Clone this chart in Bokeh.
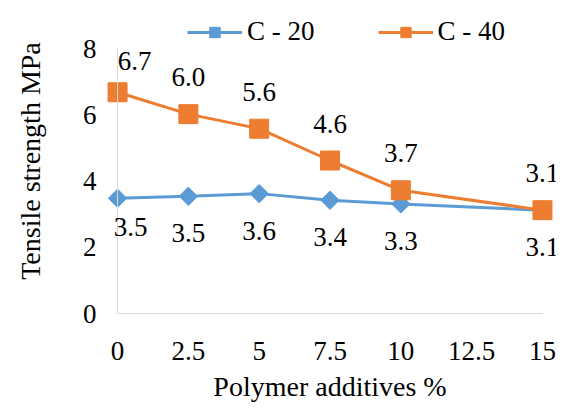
import math
from bokeh.plotting import figure
from bokeh.models import (ColumnDataSource, Range1d, FixedTicker, Legend,
                          LegendItem, LabelSet, LinearAxis)
from bokeh.embed import file_html
from bokeh.resources import INLINE
from bokeh.core.properties import value

# ---- data ----
additive = [0, 2.5, 5, 7.5, 10, 15]
c20 = [3.48, 3.54, 3.62, 3.42, 3.31, 3.12]
c40 = [6.68, 6.02, 5.58, 4.62, 3.72, 3.12]
series_names = ["C - 20", "C - 40"]
x_ticks = [0, 2.5, 5, 7.5, 10, 12.5, 15]
x_tick_labels = ["0", "2.5", "5", "7.5", "10", "12.5", "15"]
y_ticks = [0, 2, 4, 6, 8]
x_title = "Polymer additives %"
y_title = "Tensile strength MPa"

FONT = "Times"
FS = "27px"
FS_T = "28px"
BLUE = "#5B9BD5"
ORANGE = "#ED7D31"
GRAY = "#D9D9D9"
TXT = "#000000"

# frame extends above the value axis so the legend (drawn inside it) is visible
p = figure(width=567, height=412, output_backend="svg", toolbar_location=None,
           x_range=Range1d(-0.46, 15.46), y_range=Range1d(0, 9.21),
           min_border_left=104, min_border_right=12, min_border_top=8,
           min_border_bottom=99)
p.outline_line_color = None
p.xgrid.visible = False
p.ygrid.visible = False
p.background_fill_color = "white"
p.border_fill_color = "white"

# axes
p.xaxis.ticker = FixedTicker(ticks=x_ticks)
p.xaxis.major_label_overrides = {t: l for t, l in zip(x_ticks, x_tick_labels)}
p.xaxis.bounds = (x_ticks[0], x_ticks[-1])
p.yaxis.ticker = FixedTicker(ticks=y_ticks)
p.yaxis.major_label_overrides = {t: str(t) for t in y_ticks}
for ax in (p.xaxis, p.yaxis):
    ax.major_tick_line_color = None
    ax.minor_tick_line_color = None
    ax.major_tick_out = 0
    ax.major_tick_in = 0
    ax.minor_tick_out = 0
    ax.major_label_text_font = FONT
    ax.major_label_text_font_size = FS
    ax.major_label_text_color = TXT
    ax.axis_label_text_font = FONT
    ax.axis_label_text_font_size = FS_T
    ax.axis_label_text_font_style = "normal"
    ax.axis_label_text_color = TXT
p.xaxis.axis_line_color = GRAY
p.xaxis.axis_line_width = 1
p.xaxis.major_label_standoff = 28
p.xaxis.axis_label = x_title
p.xaxis.axis_label_standoff = 8
p.yaxis.axis_line_color = None
p.yaxis.major_label_standoff = 8
p.yaxis.axis_label = y_title
p.yaxis.axis_label_standoff = 34

# vertical value-axis line at x = 0, from 0 to 8 only
vline = LinearAxis(ticker=FixedTicker(ticks=[]), bounds=(y_ticks[0], y_ticks[-1]),
                   fixed_location=x_ticks[0], axis_line_color=GRAY,
                   major_tick_out=0, major_tick_in=0, minor_tick_out=0,
                   major_label_standoff=0, major_label_text_font_size="0px")
p.add_layout(vline, "left")

# series
src20 = ColumnDataSource(dict(x=additive, y=c20))
src40 = ColumnDataSource(dict(x=additive, y=c40))
l20 = p.line("x", "y", source=src20, line_color=BLUE, line_width=3)
m20 = p.scatter("x", "y", source=src20, marker="square", angle=math.pi / 4,
                size=13, fill_color=BLUE, line_color=BLUE)
l40 = p.line("x", "y", source=src40, line_color=ORANGE, line_width=3)
m40 = p.scatter("x", "y", source=src40, marker="square", size=19,
                fill_color=ORANGE, line_color=ORANGE)

# data labels
def label_source(xs, ys, dy, first_dx, first_dy):
    return ColumnDataSource(dict(
        x=xs, y=ys, text=["{:.1f}".format(v) for v in ys],
        xo=[first_dx if i == 0 else 0 for i in range(len(xs))],
        yo=[first_dy if i == 0 else dy for i in range(len(xs))]))

for s in (label_source(additive, c20, -37, 13, -29),
          label_source(additive, c40, 37, 17, 31)):
    p.add_layout(LabelSet(x="x", y="y", text="text", source=s,
                          x_offset="xo", y_offset="yo",
                          text_align="center", text_baseline="middle",
                          text_font=value(FONT), text_font_size=value(FS),
                          text_color=TXT))

legend = Legend(items=[LegendItem(label=series_names[0], renderers=[l20, m20]),
                       LegendItem(label=series_names[1], renderers=[l40, m40])],
                orientation="horizontal", location=(83, 266),
                glyph_width=55, glyph_height=26, label_standoff=5, spacing=63,
                padding=0, margin=0, border_line_alpha=0,
                background_fill_alpha=0, label_text_font=FONT,
                label_text_font_size=FS, label_text_color=TXT, label_height=30)
p.add_layout(legend)

open("out.html", "w").write(file_html(p, INLINE))
